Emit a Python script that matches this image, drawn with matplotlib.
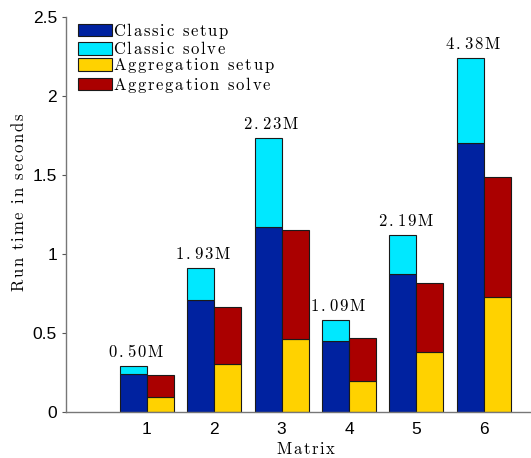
import numpy as np
import matplotlib
matplotlib.use('Agg')
from matplotlib import pyplot as plt

plt.rcParams['mathtext.fontset'] = 'cm'
plt.rcParams['font.family'] = ['Liberation Sans', 'DejaVu Sans']

matrices = [1, 2, 3, 4, 5, 6]
classic_setup = [0.24, 0.71, 1.17, 0.447, 0.873, 1.70]
classic_solve = [0.053, 0.20, 0.566, 0.133, 0.245, 0.54]
aggr_setup = [0.093, 0.305, 0.46, 0.198, 0.378, 0.73]
aggr_solve = [0.143, 0.36, 0.692, 0.268, 0.44, 0.759]
sizes = ['0.50M', '1.93M', '2.23M', '1.09M', '2.19M', '4.38M']

c_blue = '#0022a0'
c_cyan = '#00e8ff'
c_yellow = '#ffd200'
c_red = '#aa0000'


# latex-like text with loose letter spacing (as in the matlab export)
def tex(s, sp=0.12):
    parts = []
    for ch in s:
        if ch == ' ':
            parts.append(r'\ ')
        else:
            parts.append(r'\mathrm{%s}' % ch)
    return '$' + (r'\hspace{%g}' % sp).join(parts) + '$'


fs = 12

fig = plt.figure(figsize=[5.31, 4.58], dpi=100)
ax = fig.add_axes([66/531, 46/458, 1 - 66/531, 395/458])

x = np.array(matrices, dtype=float)
w = 0.4
ekw = dict(edgecolor='#1a1a1a', linewidth=0.8)
ax.bar(x - w/2, classic_setup, w, color=c_blue, label=tex('Classic setup'), **ekw)
ax.bar(x - w/2, classic_solve, w, bottom=classic_setup, color=c_cyan,
       label=tex('Classic solve'), **ekw)
ax.bar(x + w/2, aggr_setup, w, color=c_yellow, label=tex('Aggregation setup'), **ekw)
ax.bar(x + w/2, aggr_solve, w, bottom=aggr_setup, color=c_red,
       label=tex('Aggregation solve'), **ekw)

tops = np.array(classic_setup) + np.array(classic_solve)
for xi, t, s in zip(x, tops, sizes):
    ax.annotate(tex(s), (xi - 0.16, t), xytext=(0, 6),
                textcoords='offset pixels', ha='center', va='bottom', fontsize=fs)

ax.set_xlim(-0.2, 6.7)
ax.set_ylim(0, 2.5)
ax.set_xticks(matrices)
ax.set_yticks([0, 0.5, 1, 1.5, 2, 2.5])
ax.set_yticklabels(['0', '0.5', '1', '1.5', '2', '2.5'])
ax.tick_params(axis='both', labelsize=12.5, colors='#555555', labelcolor='black')
ax.tick_params(axis='y', direction='out', length=3, width=0.8)
ax.tick_params(axis='x', length=0, pad=7)

for side in ['top', 'right']:
    ax.spines[side].set_visible(False)
for side in ['left', 'bottom']:
    ax.spines[side].set_color('#777777')
    ax.spines[side].set_linewidth(1.0)

ax.set_xlabel(tex('Matrix'), fontsize=fs)
ax.xaxis.set_label_coords(0.516, -0.074)
ax.set_ylabel(tex('Run time in seconds'), fontsize=fs)
ax.yaxis.set_label_coords(-0.083, 0.53)

ax.legend(loc='upper left', bbox_to_anchor=(0.005, 1.015), frameon=False, fontsize=fs,
          handlelength=2.0, handleheight=0.75, labelspacing=-0.05,
          handletextpad=0.1, borderaxespad=0.2)

plt.savefig('out.png', dpi=100)
